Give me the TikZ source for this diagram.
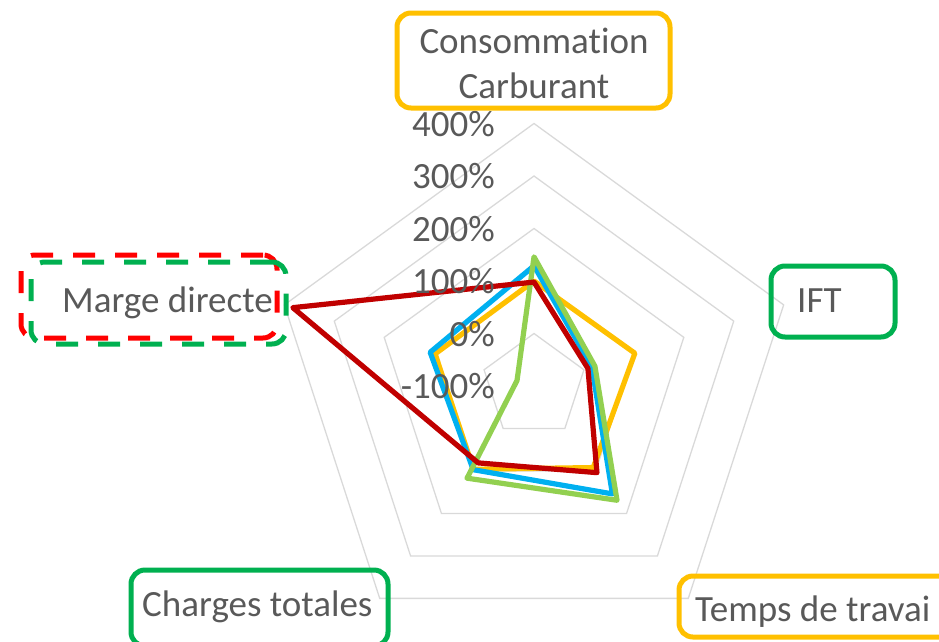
\documentclass[tikz,border=0pt]{standalone}
\usepackage{fontspec}
\setmainfont{Carlito}[Ligatures={NoCommon,NoContextual}]
\definecolor{txt}{HTML}{595959}
\definecolor{gridc}{HTML}{D9D9D9}
\definecolor{cyel}{HTML}{FFC000}
\definecolor{cblue}{HTML}{00B0F0}
\definecolor{cgreen}{HTML}{92D050}
\definecolor{cred}{HTML}{C00000}
\definecolor{bgreen}{HTML}{00B050}
\definecolor{bred}{HTML}{FF0000}
\newcommand\radarserie[6]{%
  \draw[series, draw=#1] (90:{(#2+100)*0.525}) -- (18:{(#3+100)*0.525})
    -- (-54:{(#4+100)*0.525}) -- (-126:{(#5+100)*0.525})
    -- (162:{(#6+100)*0.525}) -- cycle;}
\begin{document}
\begin{tikzpicture}[x=1pt,y=1pt,
  lbl/.style={text=txt, font=\fontsize{37}{45}\selectfont, inner sep=0pt},
  gridline/.style={draw=gridc, line width=1.3pt},
  series/.style={line width=5.2pt, line join=round},
  frame/.style={draw=#1, line width=5pt, rounded corners=14pt, inner sep=0pt},
  dashframe/.style={frame=#1, dash pattern=on 22pt off 20pt}
]
\useasboundingbox (0,-641) rectangle (939,0);
\clip (0,-641) rectangle (939,0);
\coordinate (c) at (534,-386);
\begin{scope}[shift={(c)}]
  \foreach \k in {1,...,5}{
    \draw[gridline] (90:{52.5*\k}) -- (18:{52.5*\k}) -- (-54:{52.5*\k})
      -- (-126:{52.5*\k}) -- (162:{52.5*\k}) -- cycle;
  }
  \radarserie{cyel}{100}{102}{92}{96}{98}
  \radarserie{cblue}{129}{16}{154}{97}{108}
  \radarserie{cgreen}{146}{22}{169}{117}{-66}
  \radarserie{cred}{98}{8}{104}{81}{383}
\end{scope}
% value axis labels
\foreach \v [count=\i from 0] in {-100\%,0\%,100\%,200\%,300\%,400\%}{
  \node[lbl, anchor=base east] (v\i) at (495,{-386+52.5*\i-12.5}) {\v};
}
% category frames
\node[frame=cyel, minimum width=273, minimum height=95] (cons) at (533.5,-60.5) {};
\node[frame=bgreen, minimum width=124, minimum height=71] (ift) at (833,-301.5) {};
\node[dashframe=bred, minimum width=256, minimum height=83] (margeR) at (149,-296.5) {};
\node[dashframe=bgreen, minimum width=255, minimum height=82] (margeG) at (158.5,-303) {};
\node[frame=bgreen, minimum width=257, minimum height=76] (charges) at (259.5,-608) {};
\node[frame=cyel, minimum width=290, minimum height=61] (temps) at (824,-606.5) {};
% category labels
\node[lbl, anchor=base] (consT1) at (534,-53) {Consommation};
\node[lbl, anchor=base] (consT2) at (534,-98) {Carburant};
\node[lbl, anchor=base west] (iftT) at (797,-312.7) {IFT};
\node[lbl, anchor=base west] (margeT) at (62,-312.7) {Marge directe};
\node[lbl, anchor=base west] (chargesT) at (142,-616.7) {Charges totales};
\node[lbl, anchor=base west] (tempsT) at (695,-621.7) {Temps de travai};
\end{tikzpicture}
\end{document}
